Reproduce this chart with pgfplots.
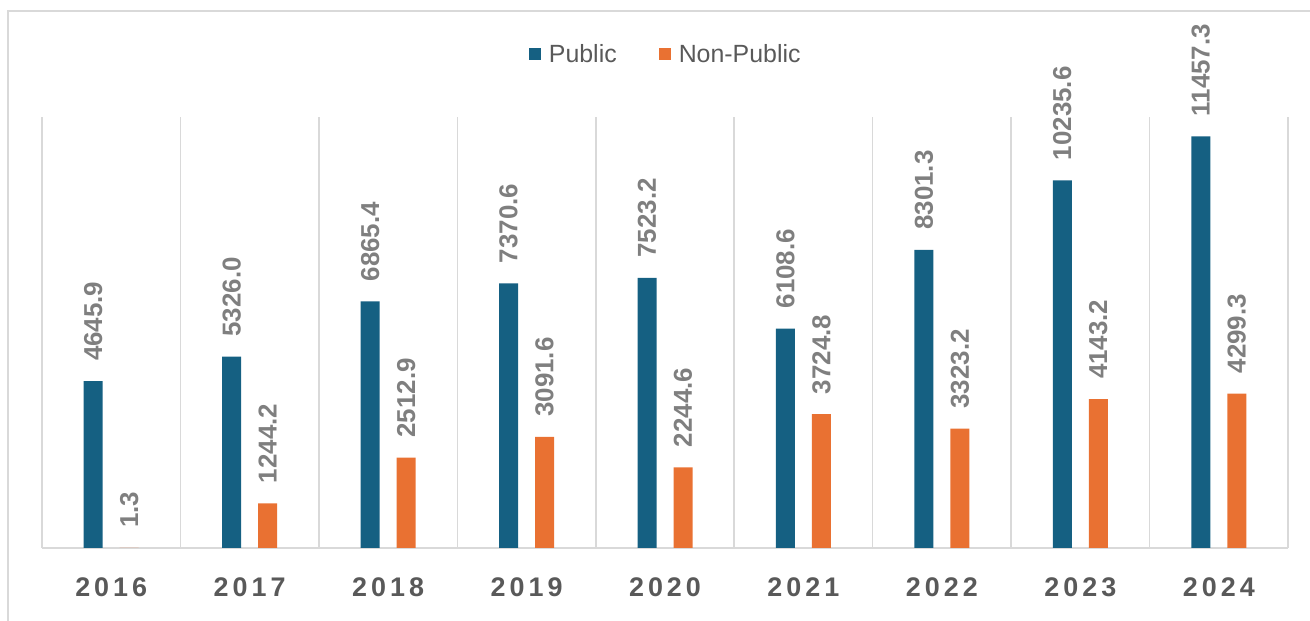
\documentclass[border=0pt]{standalone}
\usepackage{pgfplots}
\pgfplotsset{compat=1.18}
\usepackage{fontspec}
\setmainfont{Liberation Sans}
\definecolor{pub}{HTML}{156082}
\definecolor{npub}{HTML}{E97132}
\definecolor{lbl}{HTML}{7F7F7F}
\definecolor{tickc}{HTML}{595959}
\definecolor{grd}{HTML}{D9D9D9}
\begin{document}
\begin{tikzpicture}[x=1bp,y=1bp]
\useasboundingbox (0,0) rectangle (1310,621);
\draw[grd, line width=2bp] (8,-5) -- (8,610) -- (1320,610);
\begin{axis}[
  at={(42bp,73bp)}, anchor=south west,
  scale only axis, width=1246bp, height=431bp,
  xmin=-0.5, xmax=8.5, ymin=0, ymax=12000,
  ybar, bar width=19bp,
  axis x line=bottom, axis y line=none,
  x axis line style={grd, line width=1.5bp, -},
  xtick={0,...,8},
  xticklabels={2016,2017,2018,2019,2020,2021,2022,2023,2024},
  major tick length=0pt, minor tick length=0pt,
  minor xtick={-0.5,0.5,...,8.5},
  xminorgrids=true,
  minor grid style={grd, line width=1.5bp},
  xticklabel style={font=\fontsize{27}{27}\selectfont\bfseries\addfontfeature{LetterSpace=15}, text=tickc, inner sep=0pt, yshift=-30bp},
  clip=false,
  point meta=explicit symbolic,
  nodes near coords,
  every node near coord/.append style={rotate=90, anchor=west, font=\fontsize{26}{26}\selectfont\bfseries, text=lbl, inner xsep=20bp, inner ysep=0pt},
  legend style={at={(0.503,1.145)}, anchor=center, draw=none, fill=none,
    legend columns=2, font=\fontsize{25}{25}\selectfont, text=tickc,
    /tikz/every even column/.append style={column sep=34bp},
    nodes={inner xsep=8bp, inner ysep=2bp}},
  legend image code/.code={\fill[#1, draw=none] (0bp,-6bp) rectangle (12bp,6bp);},
]
\addplot[fill=pub, draw=none, bar shift=-18bp] coordinates {
(0,4645.9) [4645.9]
(1,5326.0) [5326.0]
(2,6865.4) [6865.4]
(3,7370.6) [7370.6]
(4,7523.2) [7523.2]
(5,6108.6) [6108.6]
(6,8301.3) [8301.3]
(7,10235.6) [10235.6]
(8,11457.3) [11457.3]
};
\addplot[fill=npub, draw=none, bar shift=18bp] coordinates {
(0,1.3) [1.3]
(1,1244.2) [1244.2]
(2,2512.9) [2512.9]
(3,3091.6) [3091.6]
(4,2244.6) [2244.6]
(5,3724.8) [3724.8]
(6,3323.2) [3323.2]
(7,4143.2) [4143.2]
(8,4299.3) [4299.3]
};
\legend{Public,Non-Public}
\end{axis}
\end{tikzpicture}
\end{document}
